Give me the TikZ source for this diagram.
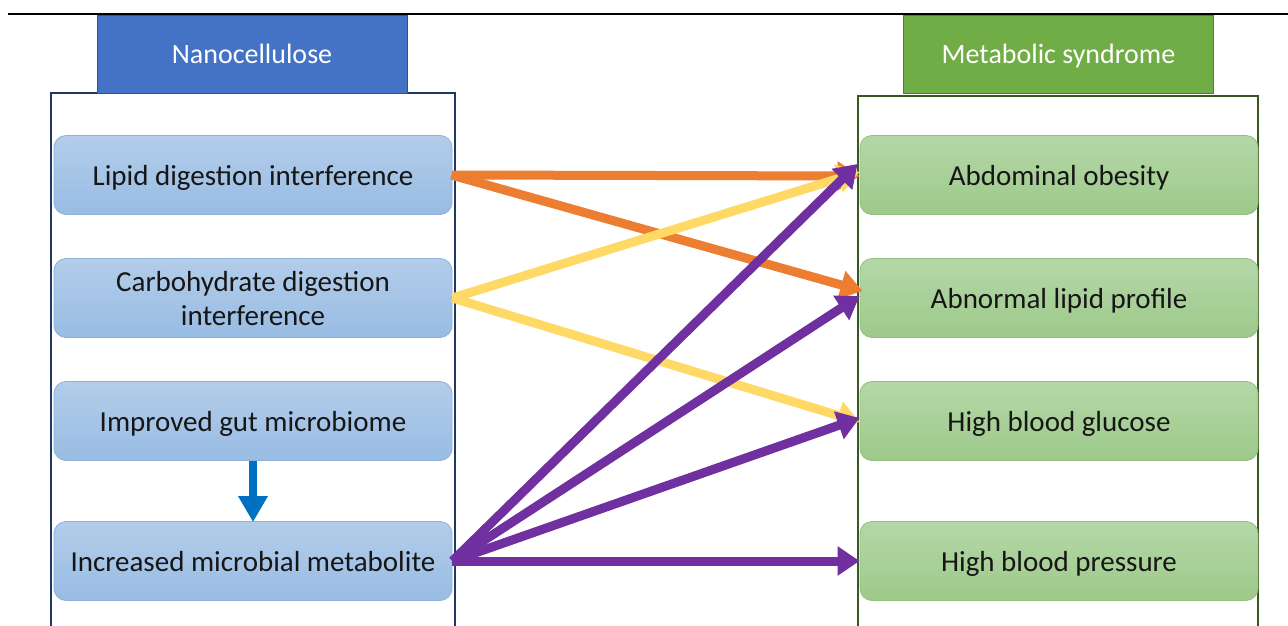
\documentclass[tikz,border=0pt]{standalone}
\usepackage{fontspec}
\setmainfont{Carlito}
\usetikzlibrary{arrows.meta}
\definecolor{hdrblue}{HTML}{4472C4}
\definecolor{hdrblueline}{HTML}{2F528F}
\definecolor{hdrgreen}{HTML}{70AD47}
\definecolor{hdrgreenline}{HTML}{507E32}
\definecolor{navy}{HTML}{1F3864}
\definecolor{dkgreen}{HTML}{385723}
\definecolor{bluetop}{HTML}{B3CDEA}
\definecolor{bluebot}{HTML}{98BCE3}
\definecolor{blueline}{HTML}{8FB1DA}
\definecolor{greentop}{HTML}{B5D7A8}
\definecolor{greenbot}{HTML}{9DC98A}
\definecolor{greenline}{HTML}{93BF80}
\definecolor{arrorange}{HTML}{ED7D31}
\definecolor{arryellow}{HTML}{FFD966}
\definecolor{arrpurple}{HTML}{7030A0}
\definecolor{arrblue}{HTML}{0070C0}
\definecolor{txt}{HTML}{161616}
\begin{document}
\begin{tikzpicture}[x=1pt,y=-1pt,
  header/.style={minimum width=310pt,minimum height=78pt,inner sep=0pt,text=white,text depth=0pt,font=\fontsize{28}{32}\selectfont},
  lbox/.style={rounded corners=12pt,top color=bluetop,bottom color=bluebot,draw=blueline,line width=0.8pt,minimum width=398pt,minimum height=79pt,inner sep=0pt,align=center,text=txt,text depth=0pt,font=\fontsize{29}{34}\selectfont},
  rbox/.style={rounded corners=12pt,top color=greentop,bottom color=greenbot,draw=greenline,line width=0.8pt,minimum width=398pt,minimum height=79pt,inner sep=0pt,align=center,text=txt,text depth=0pt,font=\fontsize{29}{34}\selectfont},
  link/.style={line width=9pt,-{Triangle[length=22pt,width=28pt]}},
]
\useasboundingbox (0,0) rectangle (1288,626);
\fill[white] (0,0) rectangle (1288,626);
% top rule
\draw[line width=2pt,black] (8,14) -- (1288,14);
% containers
\draw[navy,line width=1.2pt] (51,626) -- (51,93) -- (455,93) -- (455,626);
\draw[dkgreen,line width=1.2pt] (858,626) -- (858,96) -- (1258,96) -- (1258,626);
% headers
\node[header,fill=hdrblue,draw=hdrblueline] (hn) at (252,54) {Nanocellulose};
\node[header,fill=hdrgreen,draw=hdrgreenline] (hm) at (1058.5,54) {Metabolic syndrome};
% left boxes
\node[lbox] (lipid) at (253,175) {Lipid digestion interference};
\node[lbox] (carb) at (253,298) {Carbohydrate digestion\\interference};
\node[lbox] (gut) at (253,421) {Improved gut microbiome};
\node[lbox] (meta) at (253,561) {Increased microbial metabolite};
% right boxes
\node[rbox] (abd) at (1059,175) {Abdominal obesity};
\node[rbox] (lipprof) at (1059,298) {Abnormal lipid profile};
\node[rbox] (gluc) at (1059,421) {High blood glucose};
\node[rbox] (bp) at (1059,561) {High blood pressure};
% blue arrow
\draw[arrblue,line width=8pt,-{Triangle[length=26pt,width=28pt]}] (gut.south) -- ([yshift=-1pt]meta.north);
% orange
\draw[link,arrorange] (lipid.east) -- ([yshift=-1pt]abd.west);
\draw[link,arrorange] ([xshift=-1pt]lipid.east) -- ([yshift=7pt,xshift=3pt]lipprof.west);
% yellow
\draw[link,arryellow] (carb.east) -- ([yshift=3pt]abd.west);
\draw[link,arryellow] (carb.east) -- ([yshift=-1pt]gluc.west);
% purple
\draw[link,arrpurple] (meta.east) -- ([yshift=11pt,xshift=-2pt]abd.west);
\draw[link,arrpurple] (meta.east) -- ([yshift=2pt]lipprof.west);
\draw[link,arrpurple] (meta.east) -- ([yshift=3pt]gluc.west);
\draw[link,arrpurple] (meta.east) -- (bp.west);
\end{tikzpicture}
\end{document}
